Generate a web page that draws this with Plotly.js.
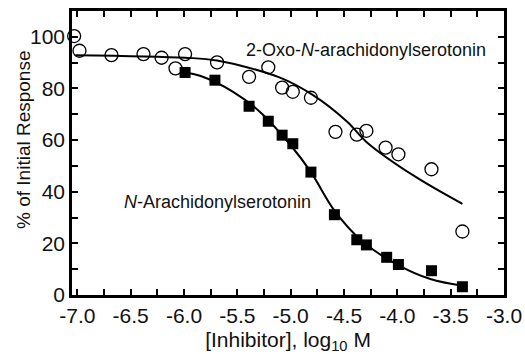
<!DOCTYPE html>
<html>
<head>
<meta charset="utf-8">
<script src="https://cdn.plot.ly/plotly-3.0.1.min.js"></script>
<style>html,body{margin:0;padding:0;background:#fff}#chart{width:525px;height:354px}</style>
</head>
<body>
<div id="chart"></div>
<script>
// 2-Oxo-N-arachidonylserotonin (open circles)
const oxoX = [-7.03, -6.98, -6.68, -6.38, -6.21, -6.08, -5.99, -5.69, -5.39, -5.21, -5.08, -4.98, -4.81, -4.58, -4.38, -4.29, -4.11, -3.99, -3.68, -3.39];
const oxoY = [100.3, 94.6, 92.9, 93.3, 91.9, 87.8, 93.3, 90.1, 84.5, 88.2, 80.3, 78.7, 76.4, 63.2, 62.1, 63.6, 57.1, 54.5, 48.7, 24.6];
// fitted curve for 2-Oxo
const oxoFitX = [-7.02, -5.99, -5.69, -5.10, -4.79, -4.47, -4.29, -3.85, -3.39];
const oxoFitY = [92.9, 91.9, 90.8, 84.2, 77.4, 67.1, 59.3, 46.3, 35.3];

// N-Arachidonylserotonin (filled squares)
const naX = [-5.99, -5.71, -5.39, -5.21, -5.08, -4.98, -4.81, -4.59, -4.38, -4.29, -4.10, -3.99, -3.68, -3.39];
const naY = [86.2, 83.2, 73.1, 67.3, 61.9, 58.6, 47.6, 31.1, 21.4, 19.4, 14.6, 11.8, 9.4, 3.2];
// fitted curve for N-Arachidonylserotonin
const naFitX = [-5.99, -5.85, -5.54, -5.29, -5.00, -4.81, -4.59, -4.32, -4.01, -3.69, -3.39];
const naFitY = [86.2, 84.9, 78.7, 71.0, 58.0, 47.6, 32.7, 20.5, 12.0, 6.2, 3.6];

// tick positions (every tick) and their labels ('' = unlabelled tick)
const xTickVals = [-7.0, -6.75, -6.5, -6.25, -6.0, -5.75, -5.5, -5.25, -5.0, -4.75, -4.5, -4.25, -4.0, -3.75, -3.5, -3.25, -3.0];
const xTickText = ['-7.0', '', '-6.5', '', '-6.0', '', '-5.5', '', '-5.0', '', '-4.5', '', '-4.0', '', '-3.5', '', '-3.0'];
const yTickVals = [0, 10, 20, 30, 40, 50, 60, 70, 80, 90, 100];
const yTickText = ['0', '', '20', '', '40', '', '60', '', '80', '', '100'];

const xTitle = '[Inhibitor], log<sub>10</sub> M';
const yTitle = '% of Initial Response';
const oxoLabel = '2-Oxo-<i>N</i>-arachidonylserotonin';
const naLabel = '<i>N</i>-Arachidonylserotonin';

const font = 'Liberation Sans, Arial, Helvetica, sans-serif';

const traces = [
  {x: oxoFitX, y: oxoFitY, mode: 'lines', line: {color: '#000', width: 2, shape: 'spline', smoothing: 1}, hoverinfo: 'skip'},
  {x: naFitX, y: naFitY, mode: 'lines', line: {color: '#000', width: 2, shape: 'spline', smoothing: 1}, hoverinfo: 'skip'},
  {x: oxoX, y: oxoY, mode: 'markers', cliponaxis: false,
   marker: {symbol: 'circle-open', size: 13, color: '#000', line: {width: 1.3, color: '#000'}}},
  {x: naX, y: naY, mode: 'markers', cliponaxis: false,
   marker: {symbol: 'square', size: 11, color: '#000', line: {width: 0}}}
];

const layout = {
  width: 525, height: 354,
  margin: {l: 72, r: 21, t: 11, b: 59},
  paper_bgcolor: '#fff', plot_bgcolor: '#fff',
  showlegend: false,
  xaxis: {
    showline: true, linecolor: '#000', linewidth: 2.5, mirror: 'allticks',
    ticks: 'inside', ticklen: 6, tickwidth: 2, tickcolor: '#000000',
    showgrid: false, zeroline: false, automargin: false,
    tickfont: {family: font, size: 21, color: '#111'},
    range: [-7.05, -3.0],
    tickmode: 'array', tickvals: xTickVals, ticktext: xTickText,
    title: {text: xTitle, font: {family: font, size: 21, color: '#111'}}
  },
  yaxis: {
    showline: true, linecolor: '#000', linewidth: 2.5, mirror: 'allticks',
    ticks: 'inside', ticklen: 6, tickwidth: 2, tickcolor: '#000000',
    showgrid: false, zeroline: false, automargin: false,
    tickfont: {family: font, size: 21, color: '#111'},
    range: [0, 110],
    tickmode: 'array', tickvals: yTickVals, ticktext: yTickText
  },
  annotations: [
    {x: -0.111, y: 0.546, xref: 'paper', yref: 'paper', text: yTitle, textangle: -90, showarrow: false,
     xanchor: 'center', yanchor: 'middle', font: {family: font, size: 19, color: '#111'}},
    {x: -4.29, y: 94.8, xref: 'x', yref: 'y', text: oxoLabel, showarrow: false,
     font: {family: font, size: 18, color: '#111'}},
    {x: -5.69, y: 36.1, xref: 'x', yref: 'y', text: naLabel, showarrow: false,
     font: {family: font, size: 18, color: '#111'}}
  ]
};

Plotly.newPlot('chart', traces, layout, {displayModeBar: false});
</script>
</body>
</html>
